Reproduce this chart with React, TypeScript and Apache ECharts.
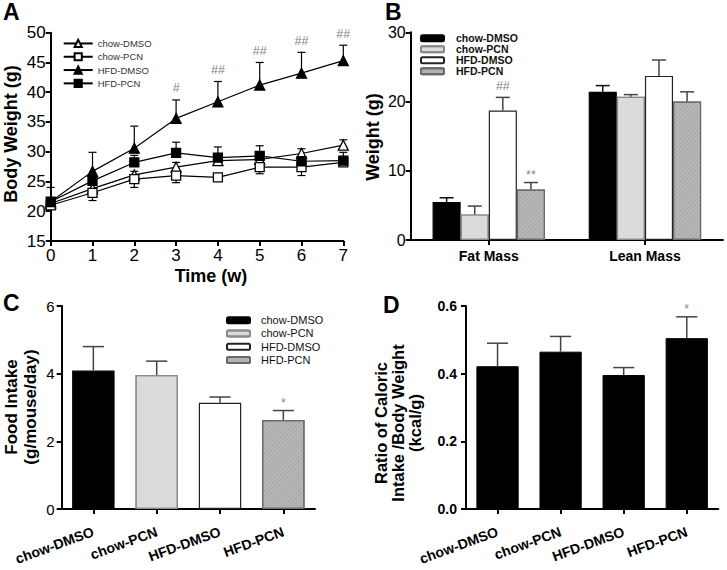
import React, { useEffect, useRef } from 'react';
import * as echarts from 'echarts';

const FONT = '"Liberation Sans", Arial, Helvetica, sans-serif';

// ---------- Panel A: body weight over time ----------
const weeks = [0, 1, 2, 3, 4, 5, 6, 7];
const chowDMSO_bw = [21.3, 23.8, 26.1, 27.4, 28.5, 28.7, 29.7, 31.1];
const chowDMSO_bwErr = [0.6, 0.8, 0.6, 0.8, 0.5, 0.5, 0.8, 0.9];
const chowPCN_bw = [21.0, 23.1, 25.4, 26.0, 25.7, 27.4, 27.4, 28.2];
const chowPCN_bwErr = [0.5, 1.3, 1.4, 1.2, 0.4, 1.1, 1.4, 0.5];
const hfdDMSO_bw = [21.6, 26.7, 30.6, 35.6, 38.4, 41.2, 43.2, 45.3];
const hfdDMSO_bwErr = [2.4, 3.2, 3.7, 3.1, 3.4, 3.8, 3.5, 2.6];
const hfdPCN_bw = [21.6, 25.1, 28.2, 29.8, 29.0, 29.3, 28.4, 28.5];
const hfdPCN_bwErr = [0.5, 0.9, 1.2, 1.8, 1.8, 1.7, 0.7, 1.4];
const bwSig = ['', '', '', '#', '##', '##', '##', '##'];
const bwTicks = { min: 15, max: 50, step: 5 };

// ---------- Panel B: body composition ----------
const compCats = ['Fat Mass', 'Lean Mass'];
const chowDMSO_comp = [5.5, 21.4];
const chowDMSO_compErr = [0.6, 0.9];
const chowPCN_comp = [3.7, 20.7];
const chowPCN_compErr = [1.2, 0.3];
const hfdDMSO_comp = [18.7, 23.7];
const hfdDMSO_compErr = [1.9, 2.3];
const hfdPCN_comp = [7.3, 20.0];
const hfdPCN_compErr = [1.0, 1.4];
const hfdDMSO_compSig = ['##', ''];
const hfdPCN_compSig = ['**', ''];

// ---------- Panels C & D ----------
const groups = ['chow-DMSO', 'chow-PCN', 'HFD-DMSO', 'HFD-PCN'];
const foodIntake = [4.09, 3.96, 3.14, 2.63];
const foodIntakeErr = [0.71, 0.41, 0.17, 0.28];
const foodIntakeSig = ['', '', '', '*'];
const caloricRatio = [0.422, 0.465, 0.396, 0.505];
const caloricRatioErr = [0.068, 0.045, 0.022, 0.063];
const caloricRatioSig = ['', '', '', '*'];

const groupStyles: any[] = [
  { color: '#000000', borderColor: '#000000' },
  {
    color: '#dcdcdc',
    borderColor: '#8a8a8a',
    decal: { symbol: 'rect', symbolSize: 0.6, dashArrayX: [1, 1], dashArrayY: [1, 1], color: 'rgba(0,0,0,0.06)' },
  },
  { color: '#ffffff', borderColor: '#222222' },
  {
    color: '#b8b8b8',
    borderColor: '#6a6a6a',
    decal: { symbol: 'rect', symbolSize: 1, dashArrayX: [1, 0], dashArrayY: [1, 2], rotation: -Math.PI / 4, color: 'rgba(0,0,0,0.1)' },
  },
];

function sigText(x: number, y: number, s: string, gap: number) {
  return {
    type: 'text',
    x,
    y: y - gap,
    style: {
      text: s,
      fill: '#858585',
      fontSize: 12.5,
      fontFamily: FONT,
      align: 'center',
      verticalAlign: 'bottom',
    },
  };
}

function lineErrSeries(vals: number[], errs: number[], dir: number, sig: string[] | null) {
  return {
    type: 'custom',
    xAxisIndex: 0,
    yAxisIndex: 0,
    z: 1,
    silent: true,
    data: weeks.map((w, i) => [w, vals[i], errs[i]]),
    encode: { x: 0, y: 1 },
    renderItem: (params: any, api: any) => {
      const x = api.value(0);
      const y = api.value(1);
      const e = api.value(2);
      const p0 = api.coord([x, y]);
      const p1 = api.coord([x, y + dir * e]);
      const st = { stroke: '#000', lineWidth: 1.2 };
      const children: any[] = [
        { type: 'line', shape: { x1: p0[0], y1: p0[1], x2: p1[0], y2: p1[1] }, style: st },
        { type: 'line', shape: { x1: p1[0] - 4, y1: p1[1], x2: p1[0] + 4, y2: p1[1] }, style: st },
      ];
      const s = sig ? sig[params.dataIndex] : '';
      if (s) children.push(sigText(p1[0], p1[1], s, 5));
      return { type: 'group', children };
    },
  };
}

function barErrSeries(
  axisIdx: number,
  vals: number[],
  errs: number[],
  slot: number,
  nSlots: number,
  catGap: number,
  color: string,
  sig: string[] | null,
) {
  return {
    type: 'custom',
    xAxisIndex: axisIdx,
    yAxisIndex: axisIdx,
    z: 5,
    silent: true,
    data: vals.map((v, i) => [i, v, errs[i]]),
    encode: { x: 0, y: 1 },
    renderItem: (params: any, api: any) => {
      const x = api.value(0);
      const y = api.value(1);
      const e = api.value(2);
      const band = api.size([1, 0])[0];
      const barW = (band * (1 - catGap)) / nSlots;
      const off = (slot - (nSlots - 1) / 2) * barW;
      const p0 = api.coord([x, y]);
      const p1 = api.coord([x, y + e]);
      const cx = p0[0] + off;
      const half = barW / 4;
      const st = { stroke: color, lineWidth: 1.5 };
      const children: any[] = [
        { type: 'line', shape: { x1: cx, y1: p0[1], x2: cx, y2: p1[1] }, style: st },
        { type: 'line', shape: { x1: cx - half, y1: p1[1], x2: cx + half, y2: p1[1] }, style: st },
      ];
      const s = sig ? sig[params.dataIndex] : '';
      if (s) children.push(sigText(cx, p1[1], s, s.indexOf('#') >= 0 ? 5 : 1));
      return { type: 'group', children };
    },
  };
}

const axisLineStyle = { show: true, lineStyle: { color: '#000', width: 2 } };
const axisTickStyle = { show: true, length: 5, lineStyle: { color: '#000', width: 2 } };

function buildOption() {
  const pts = (vals: number[]) => weeks.map((w, i) => [w, vals[i]]);
  const legendFmt = (n: string) => n.split(':')[1];

  const lineDefs = [
    { name: 'A:chow-DMSO', vals: chowDMSO_bw, symbol: 'triangle', fill: '#fff', size: 10 },
    { name: 'A:chow-PCN', vals: chowPCN_bw, symbol: 'rect', fill: '#fff', size: 9 },
    { name: 'A:HFD-DMSO', vals: hfdDMSO_bw, symbol: 'triangle', fill: '#000', size: 10 },
    { name: 'A:HFD-PCN', vals: hfdPCN_bw, symbol: 'rect', fill: '#000', size: 9 },
  ];

  const lineSeries = lineDefs.map((d) => ({
    type: 'line',
    name: d.name,
    xAxisIndex: 0,
    yAxisIndex: 0,
    data: pts(d.vals),
    symbol: d.symbol,
    symbolSize: d.size,
    showAllSymbol: true,
    itemStyle: { color: d.fill, borderColor: '#000', borderWidth: 1.3 },
    lineStyle: { color: '#000', width: 1.2 },
    z: 3,
  }));

  const compVals = [chowDMSO_comp, chowPCN_comp, hfdDMSO_comp, hfdPCN_comp];
  const compErrs = [chowDMSO_compErr, chowPCN_compErr, hfdDMSO_compErr, hfdPCN_compErr];
  const compSigs = [null, null, hfdDMSO_compSig, hfdPCN_compSig];

  const bSeries = groups.map((g, i) => ({
    type: 'bar',
    name: 'B:' + g,
    xAxisIndex: 1,
    yAxisIndex: 1,
    data: compVals[i],
    barGap: '0%',
    barCategoryGap: '28%',
    itemStyle: { ...groupStyles[i], borderWidth: 1.2 },
    z: 2,
  }));
  const bErr = groups.map((g, i) =>
    barErrSeries(1, compVals[i], compErrs[i], i, 4, 0.28, i === 0 ? '#111' : '#444', compSigs[i]),
  );

  const cSeries = groups.map((g, i) => ({
    type: 'bar',
    name: 'C:' + g,
    xAxisIndex: 2,
    yAxisIndex: 2,
    data: groups.map((_, j) => (j === i ? foodIntake[j] : '-')),
    barGap: '-100%',
    barCategoryGap: '33%',
    itemStyle: { ...groupStyles[i], borderWidth: 1.2 },
    z: 2,
  }));
  const cErr = barErrSeries(2, foodIntake, foodIntakeErr, 0, 1, 0.33, '#444', foodIntakeSig);

  const dSeries = {
    type: 'bar',
    name: 'D:ratio',
    xAxisIndex: 3,
    yAxisIndex: 3,
    data: caloricRatio,
    barCategoryGap: '33%',
    itemStyle: { color: '#000', borderColor: '#000', borderWidth: 1 },
    z: 2,
  };
  const dErr = barErrSeries(3, caloricRatio, caloricRatioErr, 0, 1, 0.33, '#444', caloricRatioSig);

  const catAxis = (idx: number, data: string[], label: any) => ({
    type: 'category',
    gridIndex: idx,
    data,
    axisLine: axisLineStyle,
    axisTick: { ...axisTickStyle, alignWithLabel: true, interval: 0 },
    axisLabel: { color: '#000', fontFamily: FONT, interval: 0, ...label },
    splitLine: { show: false },
  });

  const valAxis = (idx: number, min: number, max: number, interval: number, label: any) => ({
    type: 'value',
    gridIndex: idx,
    min,
    max,
    interval,
    axisLine: axisLineStyle,
    axisTick: axisTickStyle,
    axisLabel: { color: '#000', fontFamily: FONT, ...label },
    splitLine: { show: false },
  });

  const boldText = (text: string, x: number, y: number, size: number, rot: number, lh?: number) => ({
    type: 'text',
    x,
    y,
    rotation: rot,
    silent: true,
    style: {
      text,
      fill: '#000',
      fontSize: size,
      fontWeight: 'bold',
      fontFamily: FONT,
      align: 'center',
      verticalAlign: 'middle',
      lineHeight: lh || size,
    },
  });

  const panelLetter = (t: string, x: number, y: number) => ({
    type: 'text',
    x,
    y,
    silent: true,
    style: {
      text: t,
      fill: '#000',
      fontSize: 23,
      fontWeight: 'bold',
      fontFamily: FONT,
      align: 'left',
      verticalAlign: 'top',
    },
  });

  const legendBase = {
    orient: 'vertical',
    padding: 0,
    itemGap: 0,
    selectedMode: false,
    formatter: legendFmt,
  };

  return {
    animation: false,
    backgroundColor: '#fff',
    grid: [
      { left: 50.7, top: 32.7, width: 292.6, height: 208.3 },
      { left: 410.7, top: 32.3, width: 312.3, height: 207.7 },
      { left: 61.7, top: 306, width: 253.3, height: 203 },
      { left: 466, top: 306, width: 252.3, height: 203 },
    ],
    xAxis: [
      {
        type: 'value',
        gridIndex: 0,
        min: weeks[0],
        max: weeks[weeks.length - 1],
        interval: 1,
        axisLine: axisLineStyle,
        axisTick: axisTickStyle,
        axisLabel: { color: '#000', fontFamily: FONT, fontSize: 17, margin: 6 },
        splitLine: { show: false },
      },
      catAxis(1, compCats, { fontSize: 14, fontWeight: 'bold', margin: 9 }),
      catAxis(2, groups, { fontSize: 14, fontWeight: 'bold', rotate: 20, margin: 22 }),
      catAxis(3, groups, { fontSize: 14, fontWeight: 'bold', rotate: 20, margin: 22 }),
    ],
    yAxis: [
      valAxis(0, bwTicks.min, bwTicks.max, bwTicks.step, { fontSize: 17, margin: 5 }),
      valAxis(1, 0, 30, 10, { fontSize: 16, margin: 5 }),
      valAxis(2, 0, 6, 2, { fontSize: 15, margin: 7 }),
      valAxis(3, 0, 0.6, 0.2, {
        fontSize: 14,
        fontWeight: 'bold',
        margin: 9,
        formatter: (v: number) => v.toFixed(1),
      }),
    ],
    legend: [
      {
        ...legendBase,
        data: lineDefs.map((d) => d.name),
        left: 62.7,
        top: 36.8,
        itemWidth: 29,
        itemHeight: 9,
        textStyle: { fontSize: 9.5, color: '#333', fontFamily: FONT, lineHeight: 13.3 },
      },
      {
        ...legendBase,
        data: groups.map((g) => 'B:' + g),
        left: 420,
        top: 32.8,
        itemWidth: 23,
        itemHeight: 6,
        textStyle: {
          fontSize: 10.5,
          fontWeight: 'bold',
          color: '#111',
          fontFamily: FONT,
          lineHeight: 11,
          padding: [0, 0, 0, 7],
        },
      },
      {
        ...legendBase,
        data: groups.map((g) => 'C:' + g),
        left: 226,
        top: 313.5,
        itemWidth: 23,
        itemHeight: 6,
        textStyle: {
          fontSize: 11,
          color: '#111',
          fontFamily: FONT,
          lineHeight: 13.3,
          padding: [0, 0, 0, 6],
        },
      },
    ],
    graphic: [
      panelLetter('A', 3, 0),
      panelLetter('B', 385, 0),
      panelLetter('C', 3, 291),
      panelLetter('D', 383, 293),
      boldText('Body Weight (g)', 10.5, 134, 18, Math.PI / 2),
      boldText('Time (w)', 211, 276, 18, 0),
      boldText('Weight (g)', 372.5, 137, 18, Math.PI / 2),
      boldText('Food Intake\n(g/mouse/day)', 21, 407, 17, Math.PI / 2, 19),
      boldText('Ratio of Caloric\nIntake /Body Weight\n(kcal/g)', 398, 423, 16.5, Math.PI / 2, 17),
    ],
    series: [
      lineErrSeries(chowDMSO_bw, chowDMSO_bwErr, 1, null),
      lineErrSeries(chowPCN_bw, chowPCN_bwErr, -1, null),
      lineErrSeries(hfdDMSO_bw, hfdDMSO_bwErr, 1, bwSig),
      lineErrSeries(hfdPCN_bw, hfdPCN_bwErr, 1, null),
      ...lineSeries,
      ...bSeries,
      ...bErr,
      ...cSeries,
      cErr,
      dSeries,
      dErr,
    ],
  };
}

export default function App() {
  const ref = useRef<HTMLDivElement>(null);
  useEffect(() => {
    if (!ref.current) return;
    const chart = echarts.init(ref.current, undefined, { renderer: 'svg' });
    chart.setOption(buildOption() as any);
    return () => chart.dispose();
  }, []);
  return (
    <div
      ref={ref}
      style={{ position: 'fixed', left: 0, top: 0, width: 727, height: 570, background: '#fff' }}
    />
  );
}
